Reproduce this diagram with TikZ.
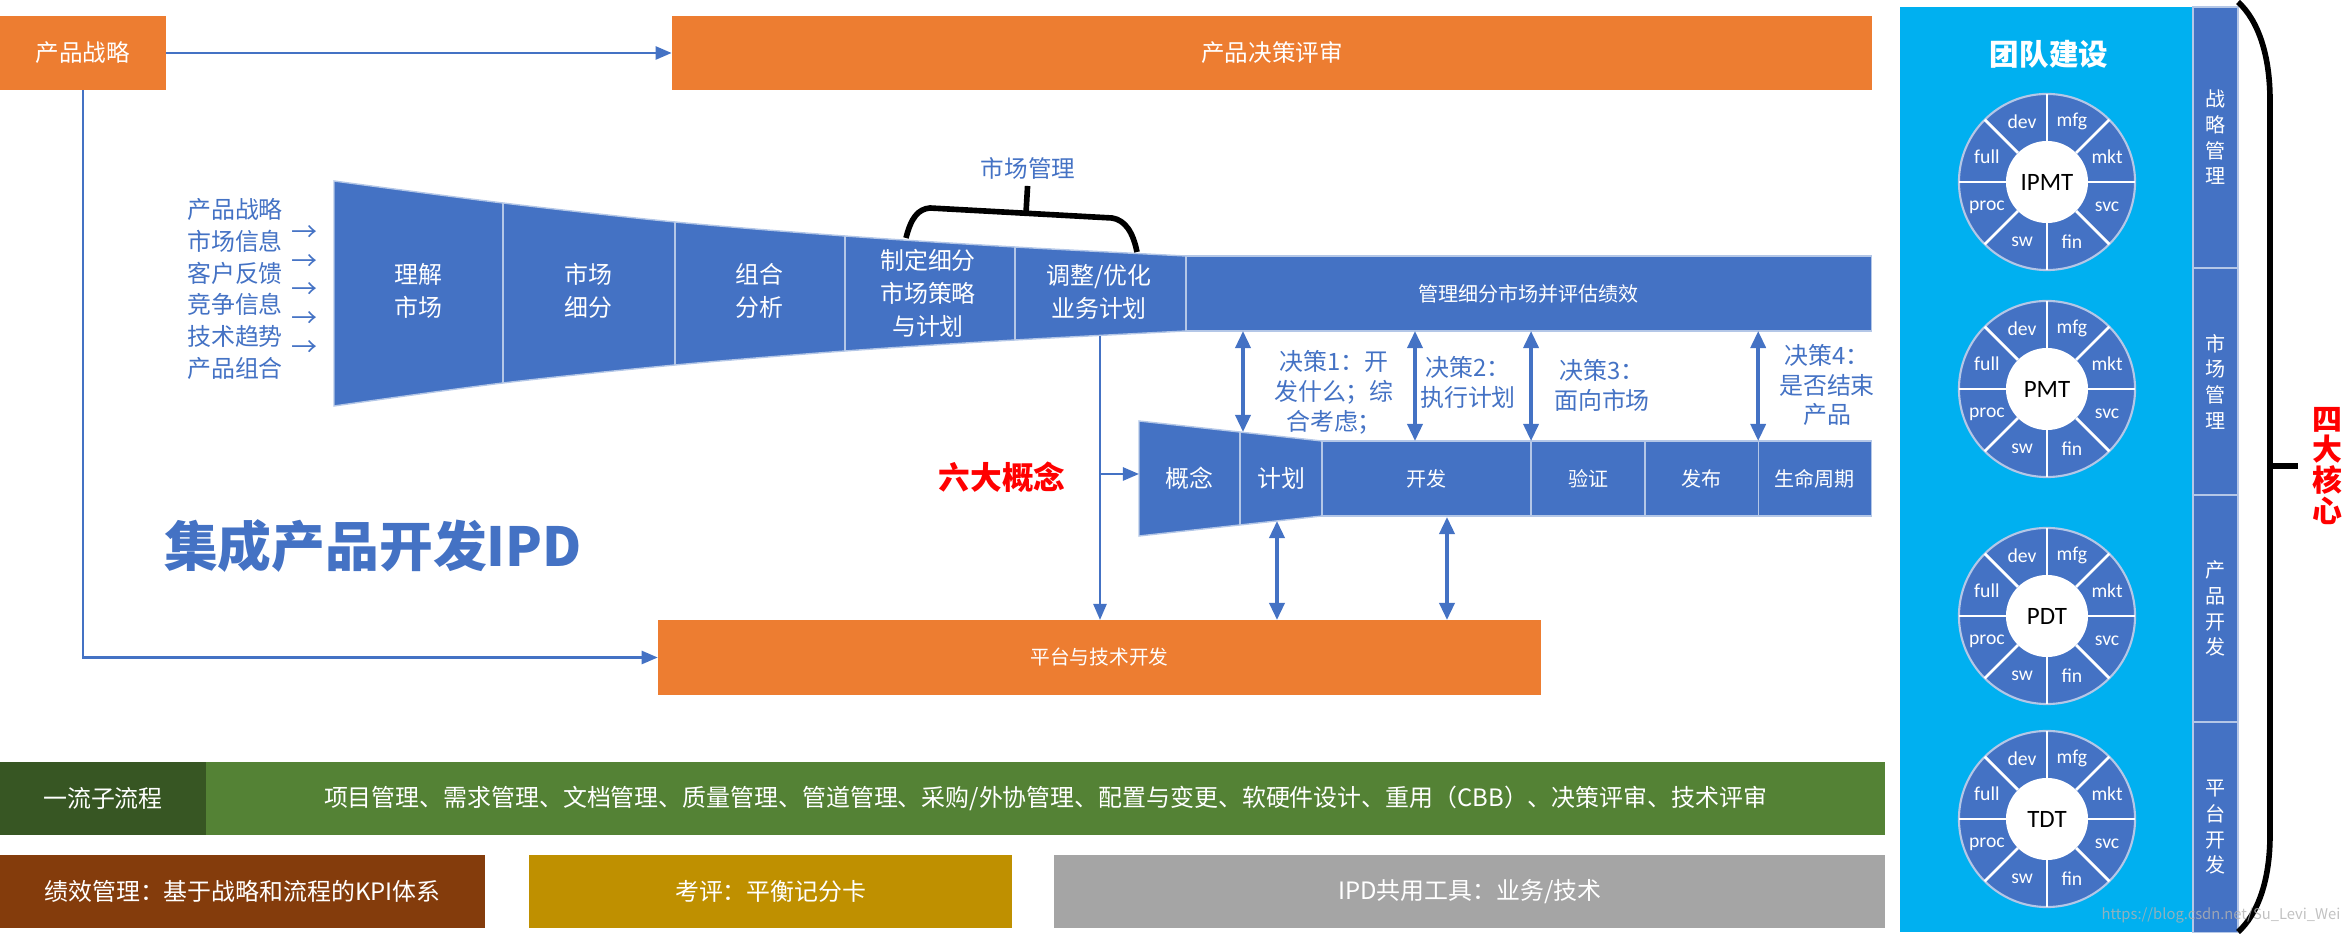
\documentclass[tikz,border=0pt]{standalone}
\usepackage{fontspec}
\setmainfont{Noto Sans CJK SC}
\newfontfamily\wheelfont{Carlito}
\usetikzlibrary{arrows.meta,positioning}
\definecolor{ipdblue}{HTML}{4472C4}
\definecolor{ipdseam}{HTML}{B4C7E7}
\definecolor{ipdorange}{HTML}{ED7D31}
\definecolor{ipdsky}{HTML}{00B0F0}
\definecolor{ipdgreen}{HTML}{548235}
\definecolor{ipddarkgreen}{HTML}{375623}
\definecolor{ipdbrown}{HTML}{843C0C}
\definecolor{ipdgold}{HTML}{BF9000}
\definecolor{ipdgrey}{HTML}{A5A5A5}
\definecolor{ipdred}{HTML}{FF0000}

\begin{document}
\begin{tikzpicture}[
    x=0.01cm, y=-0.01cm,
    node distance=0pt,
    every node/.style={inner sep=0pt, outer sep=0pt, text centered},
    ipdbox/.style={fill=ipdorange, minimum height=0.74cm, text=white, font=\fontsize{6.7pt}{8pt}\selectfont},
    funnel/.style={fill=ipdblue, draw=ipdseam, line width=0.4pt},
    seam/.style={draw=ipdseam, line width=0.4pt},
    stage/.style={fill=ipdblue, draw=ipdseam, line width=0.4pt, minimum height=0.75cm, text=white, font=\fontsize{5.7pt}{7pt}\selectfont},
    phase/.style={text=white, align=center, font=\fontsize{6.8pt}{9.4pt}\selectfont},
    note/.style={text=ipdblue, align=center, font=\fontsize{6.8pt}{8.5pt}\selectfont},
    link/.style={draw=ipdblue, line width=0.7pt, -{Triangle[length=1.6mm, width=1.3mm]}},
    gate/.style={draw=ipdblue, line width=1pt, {Triangle[length=1.7mm, width=1.5mm]}-{Triangle[length=1.7mm, width=1.5mm]}},
    brace/.style={draw=black, line width=1.6pt, line join=round},
    bar/.style={minimum height=0.73cm, text=white, font=\fontsize{6.8pt}{8pt}\selectfont},
    pillar/.style={fill=ipdblue, draw=ipdseam, line width=0.5pt, minimum width=0.45cm, text=white, align=center, font=\fontsize{5.7pt}{7.3pt}\selectfont},
    rim/.style={circle, fill=ipdblue, draw=ipdseam, line width=0.6pt, minimum size=1.76cm},
    hub/.style={circle, fill=white, minimum size=0.82cm, font=\wheelfont\fontsize{7.1pt}{8pt}\selectfont},
    spoke/.style={draw=white, line width=0.8pt},
    seat/.style={text=white, font=\wheelfont\fontsize{5.6pt}{6pt}\selectfont}
  ]
    \useasboundingbox (0,0) rectangle (2350,934);

    \node[ipdbox, minimum width=1.66cm] (strat) at (83,53) {产品战略};
    \node[ipdbox, minimum width=12cm] (review) at (1272,53) {产品决策评审};
    \draw[link] (strat) -- (review);

    \filldraw[funnel] plot[smooth] coordinates {(334,181) (503,203) (675,222) (845,236) (1015,247) (1186,256)}
      -- plot[smooth] coordinates {(1186,331) (1015,340) (845,351) (675,365) (503,383) (334,406)} -- cycle;
    \draw[seam] (503,203) -- (503,383);
    \draw[seam] (675,222) -- (675,365);
    \draw[seam] (845,236) -- (845,351);
    \draw[seam] (1015,247) -- (1015,340);
    \node[phase] (understand) at (418,291) {理解\\市场};
    \node[phase] (segment) at (588,291) {市场\\细分};
    \node[phase] (portfolio) at (759,291) {组合\\分析};
    \node[phase] (strategy) at (928,293) {制定细分\\市场策略\\与计划};
    \node[phase] (optimize) at (1099,292) {调整/优化\\业务计划};
    \node[stage, minimum width=6.85cm] (manage) at (1528.5,293.5) {管理细分市场并评估绩效};

    \node[note, font=\fontsize{6.8pt}{9pt}\selectfont] (inputs) at (235,289) {产品战略\\市场信息\\客户反馈\\竞争信息\\技术趋势\\产品组合};
    \node[note, font=\fontsize{7.4pt}{8.2pt}\selectfont] (feeds) at (305,291) {→\\→\\→\\→\\→};

    \node[note, font=\fontsize{6.7pt}{8pt}\selectfont] (mkttitle) at (1028,168) {市场管理};
    \draw[brace] (906,238) .. controls (911,218) and (918,209) .. (930,208) -- (1112,218) .. controls (1125,220) and (1133,232) .. (1137,252);
    \draw[brace, shorten <=2pt] (mkttitle.south) -- (1026,213);

    \filldraw[funnel] (1139,421) -- (1322,441) -- (1322,516) -- (1139,536) -- cycle;
    \draw[seam] (1240,432) -- (1240,525);
    \node[phase] (concept) at (1189,478.5) {概念};
    \node[phase] (plan) at (1281,478.5) {计划};
    \node[stage, minimum width=2.09cm] (develop) at (1426.5,478.5) {开发};
    \node[stage, minimum width=1.14cm, right=of develop] (verify) {验证};
    \node[stage, minimum width=1.13cm, right=of verify] (launch) {发布};
    \node[stage, minimum width=1.13cm, right=of launch] (lifecycle) {生命周期};

    \node[note] (dec1) at (1334,392) {决策1：开\\发什么；综\\合考虑；};
    \node[note] (dec2) at (1468,382) {决策2：\\执行计划};
    \node[note] (dec3) at (1602,385) {决策3：\\面向市场};
    \node[note] (dec4) at (1827,385) {决策4：\\是否结束\\产品};

    \coordinate (g1) at (1243,432);
    \coordinate (g2) at (1415,441);
    \draw[gate] (manage.south -| g1) -- (g1);
    \draw[gate] (manage.south -| g2) -- (g2);
    \draw[gate] (manage.south -| develop.north east) -- (develop.north east);
    \draw[gate] (manage.south -| lifecycle.north west) -- (lifecycle.north west);

    \node[ipdbox, minimum width=8.83cm, minimum height=0.75cm, font=\fontsize{5.6pt}{7pt}\selectfont] (platform) at (1099.5,657.5) {平台与技术开发};
    \draw[link] (strat.south) |- (platform.west);
    \coordinate (optout) at (1100,336);
    \coordinate (branch) at (1100,474);
    \coordinate (conceptin) at (1139,474);
    \draw[link] (optout) -- (optout |- platform.north);
    \draw[link] (branch) -- (conceptin);
    \coordinate (planbot) at (1277,521);
    \coordinate (devbot) at (1447,517);
    \draw[gate] (planbot) -- (planbot |- platform.north);
    \draw[gate] (devbot) -- (devbot |- platform.north);

    \node[text=ipdblue, font=\bfseries\fontsize{15.3pt}{18pt}\selectfont] (ipdtitle) at (373,546) {集成产品开发IPD};
    \node[text=ipdred, font=\bfseries\fontsize{9pt}{10pt}\selectfont] (sixconcepts) at (1002,477) {六大概念};

    \node[bar, fill=ipddarkgreen, minimum width=2.06cm] (flow) at (103,798.5) {一流子流程};
    \node[bar, fill=ipdgreen, minimum width=16.78cm, right=of flow] (tasks) {项目管理、需求管理、文档管理、质量管理、管道管理、采购/外协管理、配置与变更、软硬件设计、重用（CBB）、决策评审、技术评审};
    \node[bar, fill=ipdbrown, minimum width=4.85cm] (kpi) at (242.5,891.5) {绩效管理：基于战略和流程的KPI体系};
    \node[bar, fill=ipdgold, minimum width=4.83cm, right=0.44cm of kpi] (score) {考评：平衡记分卡};
    \node[bar, fill=ipdgrey, minimum width=8.3cm, right=0.42cm of score] (tools) {IPD共用工具：业务/技术};

    \node[fill=ipdsky, minimum width=2.93cm, minimum height=9.25cm] (team) at (2046.5,469.5) {};
    \node[text=white, font=\bfseries\fontsize{8.4pt}{10pt}\selectfont] (teamtitle) at (2049,54) {团队建设};
    \node[pillar, minimum height=2.61cm] (strategycol) at (2215.5,137.5) {战\\略\\管\\理};
    \node[pillar, minimum height=2.27cm, below=of strategycol] (marketcol) {市\\场\\管\\理};
    \node[pillar, minimum height=2.27cm, below=of marketcol] (productcol) {产\\品\\开\\发};
    \node[pillar, minimum height=2.1cm, below=of productcol] (platformcol) {平\\台\\开\\发};

    \foreach \w/\y/\t in {ipmt/182/IPMT, pmt/389/PMT, pdt/616/PDT, tdt/819/TDT} {
      \node[rim] (\w-rim) at (2047,\y) {};
      \node[hub] (\w) at (2047,\y) {\t};
      \foreach \a in {0,45,...,315}
        \draw[spoke] (\w.\a) -- (\w-rim.\a);
      \foreach \a/\s in {22.5/mkt, 67.5/mfg, 112.5/dev, 157.5/full, 202.5/proc, 247.5/sw, 292.5/fin, 337.5/svc}
        \node[seat] (\w-\s) at ([shift={(\a:0.65cm)}]\w) {\s};
    }

    \draw[brace] (2238,2) .. controls (2258,20) and (2270,55) .. (2270,100) -- (2270,835) .. controls (2270,880) and (2258,914) .. (2238,932);
    \draw[brace] (2270,466) -- (2298,466);
    \node[text=ipdred, align=center, font=\bfseries\fontsize{8.5pt}{8.8pt}\selectfont] (fourcores) at (2327,466) {四\\大\\核\\心};

    \node[text=gray!60, opacity=0.8, font=\fontsize{4.2pt}{5pt}\selectfont] (watermark) at (2221,915) {https://blog.csdn.net/Su\_Levi\_Wei};
  \end{tikzpicture}
\end{document}
